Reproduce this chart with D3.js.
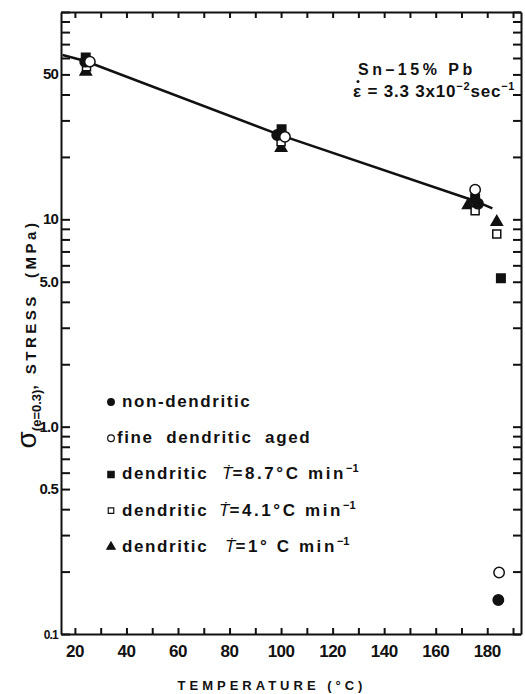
<!DOCTYPE html>
<html>
<head>
<meta charset="utf-8">
<script src="https://cdnjs.cloudflare.com/ajax/libs/d3/7.8.5/d3.min.js"></script>
<style>
    body { margin: 0; background: #fff; }
    svg text { font-family: "Liberation Sans", Arial, sans-serif; fill: #111; white-space: pre; }
</style>
</head>
<body>
<div id="chart"></div>
<script>
/*global d3: false*/

// [temperature (C), stress (MPa)]
var nonDendritic = [[24, 57.6], [98.5, 25.5], [176.4, 11.9], [184.3, 0.146]];
var fineAged = [[25.8, 57.6], [101.5, 25.0], [175.3, 13.9], [184.6, 0.198]];
var dendritic87 = [[24.2, 60.4], [100.2, 27.2], [175.3, 12.6], [185.3, 5.2]];
var dendritic41 = [[24.5, 54.5], [100, 23.7], [175.3, 11.0], [183.7, 8.5]];
var dendritic1 = [[24.2, 51.5], [100, 22.1], [172.6, 11.7], [183.7, 9.7]];
var fitLine = [[15.2, 62], [24, 58], [100, 25.4], [175, 12.3], [182, 11.3]];

var xTicks = d3.range(20, 191, 10);
var xLabels = [20, 40, 60, 80, 100, 120, 140, 160, 180];
var yLabels = [0.1, 0.5, 1, 5, 10, 50];
var yLabelText = ['0.1', '0.5', '1.0', '5.0', '10', '50'];

(function() {
    'use strict';
    var width, height, svg, x, y, yTicks, series, legendRows, g, i, line;

    width = 525;
    height = 694;

    svg = d3.select('#chart').append('svg')
        .attr('width', width)
        .attr('height', height);

    x = d3.scaleLinear().domain([14.6, 193.1]).range([61, 521]);
    y = d3.scaleLog().domain([0.1, 100]).range([634, 12]);
    yTicks = y.ticks();

    // Frame ticks, all pointing inward
    svg.append('g')
        .attr('transform', 'translate(0,' + y.range()[0] + ')')
        .call(d3.axisBottom(x).tickValues(xTicks).tickSize(-6).tickSizeOuter(0).tickFormat(''));
    svg.append('g')
        .attr('transform', 'translate(0,' + y.range()[1] + ')')
        .call(d3.axisTop(x).tickValues(xTicks).tickSize(-6).tickSizeOuter(0).tickFormat(''));
    svg.append('g')
        .attr('transform', 'translate(' + x.range()[0] + ',0)')
        .call(d3.axisLeft(y).tickValues(yTicks).tickSize(-9).tickSizeOuter(0).tickFormat(''));
    svg.append('g')
        .attr('transform', 'translate(' + x.range()[1] + ',0)')
        .call(d3.axisRight(y).tickValues(yTicks).tickSize(-8).tickSizeOuter(0).tickFormat(''));
    svg.selectAll('.domain').attr('stroke', '#111').attr('stroke-width', 2);
    svg.selectAll('.tick line').attr('stroke', '#111').attr('stroke-width', 2);

    // Tick labels
    svg.selectAll('text.xlab')
        .data(xLabels)
        .enter().append('text')
        .attr('class', 'xlab')
        .attr('x', function(d) { return x(d); })
        .attr('y', 657)
        .attr('text-anchor', 'middle')
        .attr('font-size', 17)
        .attr('font-weight', 'bold')
        .attr('letter-spacing', -0.5)
        .text(function(d) { return d; });
    svg.selectAll('text.ylab')
        .data(yLabels)
        .enter().append('text')
        .attr('class', 'ylab')
        .attr('x', 58)
        .attr('y', function(d) { return y(d) + 5; })
        .attr('text-anchor', 'end')
        .attr('font-size', function(d) { return d === 0.1 ? 12 : 15; })
        .attr('font-weight', 'bold')
        .attr('letter-spacing', -0.8)
        .text(function(d, i) { return yLabelText[i]; });

    // Axis titles
    svg.append('text')
        .attr('x', 272)
        .attr('y', 690)
        .attr('text-anchor', 'middle')
        .attr('font-size', 13)
        .attr('font-weight', 'bold')
        .attr('letter-spacing', 4)
        .text('TEMPERATURE (\u00b0C)');

    g = svg.append('text')
        .attr('transform', 'translate(36,334) rotate(-90)')
        .attr('text-anchor', 'middle')
        .attr('font-weight', 'bold');
    g.append('tspan').attr('font-size', 28).attr('font-weight', 'normal').text('\u03c3');
    g.append('tspan').attr('font-size', 13).attr('dy', 5).text('(e=0.3)');
    g.append('tspan').attr('font-size', 15).attr('dy', -5).attr('letter-spacing', 3.5)
        .text(', STRESS  (MPa)');

    // Annotation
    svg.append('text')
        .attr('x', 358)
        .attr('y', 75)
        .attr('font-size', 16)
        .attr('font-weight', 'bold')
        .attr('letter-spacing', 3.5)
        .text('Sn\u201315% Pb');
    g = svg.append('text')
        .attr('x', 353)
        .attr('y', 97)
        .attr('font-size', 17)
        .attr('font-weight', 'bold')
        .attr('letter-spacing', 0.8);
    g.append('tspan').text('\u03b5 = 3.3 3x10');
    g.append('tspan').attr('font-size', 11).attr('dy', -7).text('\u22122');
    g.append('tspan').attr('dy', 7).text('sec');
    g.append('tspan').attr('font-size', 11).attr('dy', -7).text('\u22121');
    // dot over epsilon
    svg.append('circle')
        .attr('cx', 358)
        .attr('cy', 81.5)
        .attr('r', 1.5)
        .attr('fill', '#111');

    // Fitted line
    line = d3.line()
        .x(function(d) { return x(d[0]); })
        .y(function(d) { return y(d[1]); });
    svg.append('path')
        .datum(fitLine)
        .attr('d', line)
        .attr('fill', 'none')
        .attr('stroke', '#111')
        .attr('stroke-width', 2.5);

    series = [
        {data: dendritic1, type: d3.symbolTriangle, size: 55, fill: '#111', legend: 30},
        {data: dendritic41, type: d3.symbolSquare, size: 64, fill: '#fff', legend: 30},
        {data: nonDendritic, type: d3.symbolCircle, size: 85, fill: '#111', legend: 35},
        {data: dendritic87, type: d3.symbolSquare, size: 72, fill: '#111', legend: 40},
        {data: fineAged, type: d3.symbolCircle, size: 85, fill: '#fff', legend: 35}
    ];

    series.forEach(function(s) {
        svg.selectAll(null)
            .data(s.data)
            .enter().append('path')
            .attr('transform', function(d) { return 'translate(' + x(d[0]) + ',' + y(d[1]) + ')'; })
            .attr('d', d3.symbol().type(s.type).size(s.size))
            .attr('fill', s.fill)
            .attr('stroke', '#111')
            .attr('stroke-width', 1.5);
    });

    // Legend
    legendRows = [
        {s: series[2], text: [['non-dendritic']]},
        {s: series[4], text: [['fine  dendritic  aged']]},
        {s: series[3], text: [['dendritic'], ['\u1e6a', 222, true], ['=8.7\u00b0C min'], ['\u22121', 0, false, true]]},
        {s: series[1], text: [['dendritic'], ['\u1e6a', 219, true], ['=4.1\u00b0C min'], ['\u22121', 0, false, true]]},
        {s: series[0], text: [['dendritic'], ['\u1e6a', 225, true], ['=1\u00b0 C min'], ['\u22121', 0, false, true]]}
    ];

    for (i = 0; i < legendRows.length; i++) {
        (function(row, i) {
            var ty, t;
            ty = 407 + i * 36.2;
            svg.append('path')
                .attr('transform', 'translate(' + 111 + ',' + (ty - 5) + ')')
                .attr('d', d3.symbol().type(row.s.type).size(row.s.legend))
                .attr('fill', row.s.fill)
                .attr('stroke', '#111')
                .attr('stroke-width', 1.2);
            t = svg.append('text')
                .attr('x', i === 1 ? 117 : 122)
                .attr('y', ty)
                .attr('font-size', 17)
                .attr('font-weight', 'bold')
                .attr('letter-spacing', 1.6);
            row.text.forEach(function(p, k) {
                var sp = t.append('tspan').text(p[0]);
                if (p[1]) {
                    sp.attr('x', p[1]);
                }
                if (p[2]) {
                    sp.attr('font-style', 'italic').attr('font-weight', 'normal').attr('letter-spacing', 0);
                }
                if (p[3]) {
                    sp.attr('font-size', 11).attr('dy', -7).attr('letter-spacing', 0);
                }
                if (k === 2) {
                    sp.attr('letter-spacing', 2.6);
                }
            });
        })(legendRows[i], i);
    }
})();
</script>
</body>
</html>
